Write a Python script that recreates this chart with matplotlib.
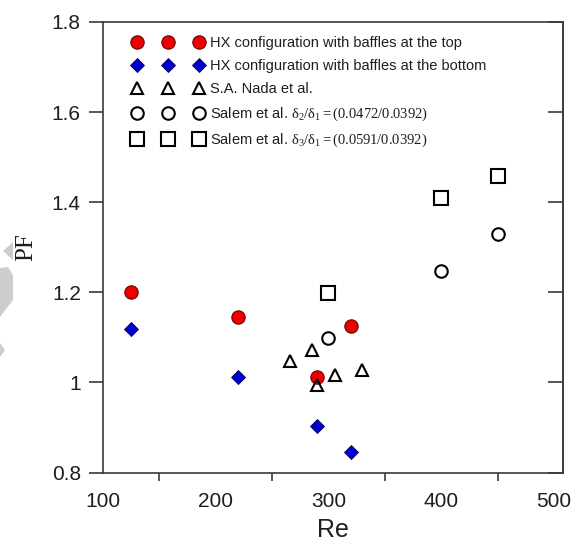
import matplotlib
matplotlib.use("Agg")
import matplotlib.pyplot as plt
from matplotlib.patches import Polygon

plt.rcParams['font.family'] = ['Liberation Sans', 'DejaVu Sans']
plt.rcParams['mathtext.fontset'] = 'custom'
plt.rcParams['mathtext.rm'] = 'Liberation Serif'
plt.rcParams['mathtext.it'] = 'Liberation Serif:italic'

# measured performance factor vs Reynolds number
re_top = [125, 220, 290, 320]
pf_top = [1.200, 1.145, 1.013, 1.125]

re_bottom = [125, 220, 290, 320]
pf_bottom = [1.118, 1.012, 0.904, 0.845]

re_nada = [266, 285, 290, 306, 330]
pf_nada = [1.047, 1.071, 0.995, 1.016, 1.027]

re_salem = [300, 400, 450]
pf_salem_d2 = [1.098, 1.247, 1.329]
pf_salem_d3 = [1.198, 1.410, 1.458]

x_ticks = [100, 200, 300, 400, 500]
x_minor = [150, 250, 350, 450]
y_ticks = [0.8, 1.0, 1.2, 1.4, 1.6, 1.8]
y_labels = ['0.8', '1', '1.2', '1.4', '1.6', '1.8']

labels = [
    'HX configuration with baffles at the top',
    'HX configuration with baffles at the bottom',
    'S.A. Nada et al.',
    r'Salem et al. $\mathrm{\delta_2/\delta_1{=}(0.0472/0.0392)}$',
    r'Salem et al. $\mathrm{\delta_3/\delta_1{=}(0.0591/0.0392)}$',
]

axis_col = '#3a3a3a'
text_col = '#1e1e1e'

fig = plt.figure(figsize=(5.74, 5.43), dpi=100)
ax = fig.add_axes([0.1794, 0.1298, 0.8014, 0.8297])

ax.plot(re_top, pf_top, 'o', ms=9.6, mfc='#ee0000', mec='#700000', mew=0.8)
ax.plot(re_bottom, pf_bottom, 'D', ms=7.6, mfc='#0000cc', mec='#00005a', mew=0.6)
ax.plot(re_nada, pf_nada, '^', ms=9.3, mfc='none', mec='black', mew=1.5)
ax.plot(re_salem, pf_salem_d2, 'o', ms=9.0, mfc='none', mec='black', mew=1.5)
ax.plot(re_salem, pf_salem_d3, 's', ms=9.6, mfc='none', mec='black', mew=1.5)

ax.set_xlim(100, 508)
ax.set_ylim(0.8, 1.8)

# labels sit on the hundreds, tick marks only on the fifties
ax.set_xticks(x_ticks)
ax.set_xticks(x_minor, minor=True)
ax.tick_params(axis='x', which='major', length=0, pad=14, labelsize=15,
               labelcolor=text_col)
ax.tick_params(axis='x', which='minor', direction='out', length=6, width=1.2,
               color=axis_col)
ax.set_yticks(y_ticks, y_labels)
ax.tick_params(axis='y', direction='out', length=10, width=1.2, pad=6,
               labelsize=15, labelcolor=text_col, color=axis_col)

# inward ticks on the right edge of the frame
sec = ax.secondary_yaxis('right')
sec.set_yticks(y_ticks)
sec.tick_params(direction='in', length=11, width=1.2, labelright=False,
                color=axis_col)
sec.spines['right'].set_color(axis_col)
sec.spines['right'].set_linewidth(1.2)

for sp in ax.spines.values():
    sp.set_color(axis_col)
    sp.set_linewidth(1.2)

ax.set_xlabel('Re', fontsize=18, color=text_col, labelpad=5)
ax.set_ylabel('PF', fontsize=18, family=['Liberation Serif', 'DejaVu Serif'],
              color=text_col)
ax.yaxis.set_label_coords(-0.143, 0.5)

ax.legend(labels, loc='upper left', bbox_to_anchor=(0.0637, 0.968),
          numpoints=3, frameon=False, fontsize=10.5, handlelength=4.9,
          handletextpad=0.4, labelspacing=0.62, borderpad=0,
          borderaxespad=0, labelcolor=text_col)

# faint grey shapes at the left margin
W, H = 574, 543
shapes = [
    [(3, 251), (13, 242), (13, 260)],
    [(0, 268), (8, 267), (13, 275), (13, 300), (0, 317)],
    [(0, 343), (5, 350), (0, 357)],
]
for pts in shapes:
    fig.patches.append(Polygon([(x / W, 1 - y / H) for x, y in pts],
                               closed=True, transform=fig.transFigure,
                               facecolor='#cdcdcd', edgecolor='none'))

fig.savefig('out.png', dpi=100)
